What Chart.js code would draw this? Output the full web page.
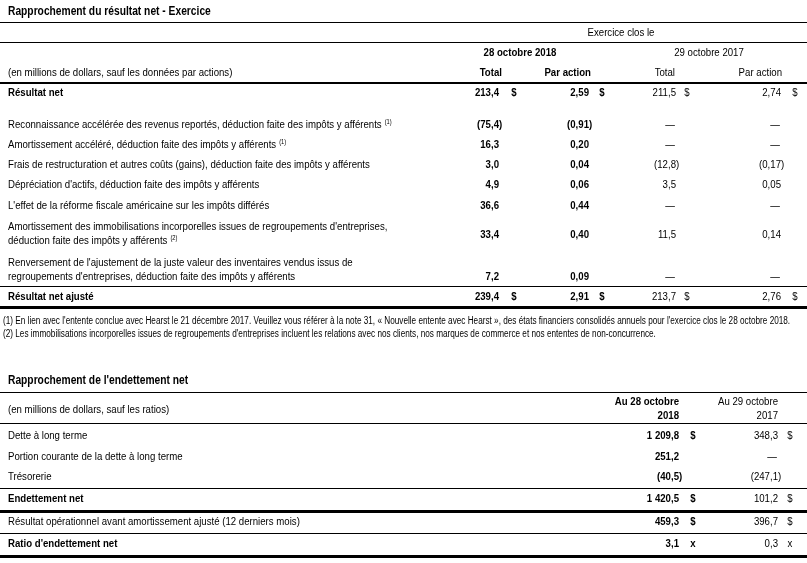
<!DOCTYPE html>
<html><head><meta charset="utf-8">
<script src="https://cdn.jsdelivr.net/npm/chart.js@4/dist/chart.umd.min.js"></script>
<style>html,body{margin:0;padding:0;background:#fff;overflow:hidden}#wrap{width:807px;height:563px;position:relative}</style>
</head><body><div id="wrap"><canvas id="c" width="807" height="563"></canvas></div>
<script>
// ---------- DATA ----------
const table1Title = 'Rapprochement du résultat net - Exercice';
const table1PeriodHeader = 'Exercice clos le';
const table1Periods = ['28 octobre 2018', '29 octobre 2017'];
const table1ColumnHeads = ['Total', 'Par action', 'Total', 'Par action'];
const table1Unit = '(en millions de dollars, sauf les données par actions)';
const table1Labels = [
  ['Résultat net'],
  ['Reconnaissance accélérée des revenus reportés, déduction faite des impôts y afférents'],
  ['Amortissement accéléré, déduction faite des impôts y afférents'],
  ['Frais de restructuration et autres coûts (gains), déduction faite des impôts y afférents'],
  ['Dépréciation d\'actifs, déduction faite des impôts y afférents'],
  ['L\'effet de la réforme fiscale américaine sur les impôts différés'],
  ['Amortissement des immobilisations incorporelles issues de regroupements d\'entreprises,', 'déduction faite des impôts y afférents'],
  ['Renversement de l\'ajustement de la juste valeur des inventaires vendus issus de', 'regroupements d\'entreprises, déduction faite des impôts y afférents'],
  ['Résultat net ajusté']
];
const table1Notes = ['', '(1)', '(1)', '', '', '', '(2)', '', ''];
const table1Bold = [true, false, false, false, false, false, false, false, true];
const table1Currency = ['$', '', '', '', '', '', '', '', '$'];
const total2018 = [213.4, -75.4, 16.3, 3.0, 4.9, 36.6, 33.4, 7.2, 239.4];
const perShare2018 = [2.59, -0.91, 0.20, 0.04, 0.06, 0.44, 0.40, 0.09, 2.91];
const total2017 = [211.5, null, null, -12.8, 3.5, null, 11.5, null, 213.7];
const perShare2017 = [2.74, null, null, -0.17, 0.05, null, 0.14, null, 2.76];
const footnotes = [
  '(1) En lien avec l\'entente conclue avec Hearst le 21 décembre 2017. Veuillez vous référer à la note 31, « Nouvelle entente avec Hearst », des états financiers consolidés annuels pour l\'exercice clos le 28 octobre 2018.',
  '(2) Les immobilisations incorporelles issues de regroupements d\'entreprises incluent les relations avec nos clients, nos marques de commerce et nos ententes de non-concurrence.'
];

const table2Title = 'Rapprochement de l\'endettement net';
const table2Unit = '(en millions de dollars, sauf les ratios)';
const table2Heads = [['Au 28 octobre', '2018'], ['Au 29 octobre', '2017']];
const table2Labels = ['Dette à long terme', 'Portion courante de la dette à long terme', 'Trésorerie', 'Endettement net', 'Résultat opérationnel avant amortissement ajusté (12 derniers mois)', 'Ratio d\'endettement net'];
const table2Bold = [false, false, false, true, false, true];
const table2Units = ['$', '', '', '$', '$', 'x'];
const at2018 = [1209.8, 251.2, -40.5, 1420.5, 459.3, 3.1];
const at2017 = [348.3, null, -247.1, 101.2, 396.7, 0.3];

// ---------- LAYOUT ----------
const T1_ROW_Y = [93, 125, 145, 165, 185, 206, 227, 263, 297];
const T1_VAL_Y = [93, 125, 145, 165, 185, 206, 235, 277, 297];
const T1_LINE_GAP = 14;
const T1_COLS = [
  {data: total2018, dec: 1, right: 499, cur: 514, bold: true},
  {data: perShare2018, dec: 2, right: 589, cur: 602, bold: true},
  {data: total2017, dec: 1, right: 676, cur: 687, bold: false},
  {data: perShare2017, dec: 2, right: 781, cur: 795, bold: false}
];
const T2_ROW_Y = [436, 457, 477, 499, 522, 544];
const T2_COLS = [
  {data: at2018, dec: 1, right: 679, cur: 693, bold: true},
  {data: at2017, dec: 1, right: 778, cur: 790, bold: false}
];

function hasFont(name){
  const c = document.createElement('canvas').getContext('2d');
  c.font = '40px monospace'; const a = c.measureText('abcdefghijklmWi').width;
  c.font = '40px "' + name + '", monospace'; const b = c.measureText('abcdefghijklmWi').width;
  return a !== b;
}
const NARROW = hasFont('Liberation Sans Narrow');
const SX = NARROW ? 1 : 0.82;
function setFont(ctx, size, bold){
  ctx.font = (bold ? 'bold ' : '') + size + 'px ' + (NARROW ? '"Liberation Sans Narrow"' : '"Liberation Sans", Arial, sans-serif');
}
function txt(ctx, s, x, y, size, bold, align){
  setFont(ctx, size, bold);
  ctx.save(); ctx.translate(x, y); ctx.scale(SX, 1);
  ctx.textAlign = align || 'left'; ctx.textBaseline = 'middle'; ctx.fillStyle = '#000';
  ctx.fillText(s, 0, 0); ctx.restore();
}
function tw(ctx, s, size, bold){ setFont(ctx, size, bold); return ctx.measureText(s).width * SX; }
function fmt(v, dec){
  if (v === null) return '—';
  let s = Math.abs(v).toFixed(dec).replace('.', ',');
  const p = s.split(','); p[0] = p[0].replace(/\B(?=(\d{3})+(?!\d))/g, ' ');
  s = p.join(',');
  return v < 0 ? '(' + s + ')' : s;
}

// datasets: one per numeric column, each cell is a point positioned by the scales
const datasets = [];
T1_COLS.forEach((c, k) => datasets.push({
  label: 't1c' + k, data: c.data.map((v, i) => ({x: c.right, y: T1_VAL_Y[i], v: v})),
  col: c, table: 1, pointRadius: 0, showLine: false
}));
T2_COLS.forEach((c, k) => datasets.push({
  label: 't2c' + k, data: c.data.map((v, i) => ({x: c.right, y: T2_ROW_Y[i], v: v})),
  col: c, table: 2, pointRadius: 0, showLine: false
}));

const tablePlugin = {
  id: 'tablePlugin',
  afterDraw(chart){
    const ctx = chart.ctx, X = v => chart.scales.x.getPixelForValue(v), Y = v => chart.scales.y.getPixelForValue(v);
    const BODY = 11.75, TITLE = 12.5, FOOT = 10, SUP = 7;
    const hline = (y, w) => { ctx.fillStyle = '#000'; ctx.fillRect(X(0), Math.round(Y(y) - w / 2), X(807) - X(0), w); };

    // Table 1 header
    txt(ctx, table1Title, X(8), Y(12), TITLE, true);
    hline(22, 1);
    txt(ctx, table1PeriodHeader, X(621), Y(33), BODY, false, 'center');
    hline(42, 1);
    txt(ctx, table1Periods[0], X(520), Y(53), BODY, true, 'center');
    txt(ctx, table1Periods[1], X(709), Y(53), BODY, false, 'center');
    txt(ctx, table1Unit, X(8), Y(73), BODY, false);
    const headRight = [502, 591, 675, 782];
    table1ColumnHeads.forEach((h, i) => txt(ctx, h, X(headRight[i]), Y(73), BODY, i < 2, 'right'));
    hline(83, 2);
    // row labels
    table1Labels.forEach((lines, i) => {
      lines.forEach((l, j) => {
        const y = Y(T1_ROW_Y[i] + j * T1_LINE_GAP);
        txt(ctx, l, X(8), y, BODY, table1Bold[i]);
        if (j === lines.length - 1 && table1Notes[i]) {
          const w = tw(ctx, l, BODY, table1Bold[i]);
          txt(ctx, table1Notes[i], X(8) + w + 3, y - 3, SUP, false);
        }
      });
    });
    hline(286, 1);
    hline(307, 3);
    txt(ctx, footnotes[0], X(3), Y(321), FOOT, false);
    txt(ctx, footnotes[1], X(3), Y(334), FOOT, false);

    // Table 2 header
    txt(ctx, table2Title, X(8), Y(381), TITLE, true);
    hline(392, 1);
    txt(ctx, table2Heads[0][0], X(679), Y(402), BODY, true, 'right');
    txt(ctx, table2Heads[0][1], X(679), Y(416), BODY, true, 'right');
    txt(ctx, table2Heads[1][0], X(778), Y(402), BODY, false, 'right');
    txt(ctx, table2Heads[1][1], X(778), Y(416), BODY, false, 'right');
    txt(ctx, table2Unit, X(8), Y(410), BODY, false);
    hline(423, 1);
    table2Labels.forEach((l, i) => txt(ctx, l, X(8), Y(T2_ROW_Y[i]), BODY, table2Bold[i]));
    hline(488, 1);
    hline(511, 3);
    hline(533, 1);
    hline(556, 3);

    // numeric cells from dataset elements
    chart.data.datasets.forEach((ds, di) => {
      const meta = chart.getDatasetMeta(di);
      meta.data.forEach((el, i) => {
        const v = ds.data[i].v, c = ds.col;
        const s = fmt(v, c.dec);
        let x = el.x;
        if (v === null) x -= 1;
        else if (v < 0) x += tw(ctx, ')', BODY, c.bold);
        txt(ctx, s, x, el.y, BODY, c.bold, 'right');
        const unit = ds.table === 1 ? table1Currency[i] : table2Units[i];
        if (unit) txt(ctx, unit, X(c.cur), el.y, BODY, c.bold, 'center');
      });
    });
  }
};

new Chart(document.getElementById('c'), {
  type: 'scatter',
  data: {datasets},
  options: {
    responsive: false, animation: false, devicePixelRatio: 1,
    layout: {padding: 0},
    plugins: {legend: {display: false}, tooltip: {enabled: false}},
    scales: {
      x: {type: 'linear', min: 0, max: 807, display: false},
      y: {type: 'linear', min: 0, max: 563, reverse: true, display: false}
    }
  },
  plugins: [tablePlugin]
});
</script>
</body></html>
